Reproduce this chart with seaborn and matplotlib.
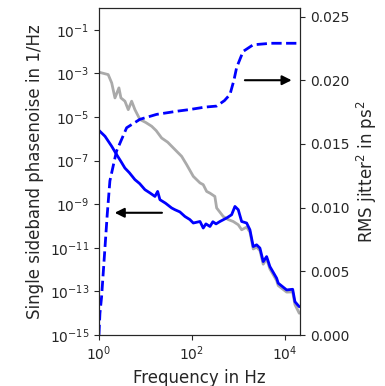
import numpy as np
import matplotlib
matplotlib.use("Agg")
import matplotlib.pyplot as plt
import seaborn as sns

# phase noise, grey trace (frequency in Hz, log10 of L(f) in 1/Hz)
grey_freq = [1.0, 1.58, 1.88, 2.21, 2.69, 2.97, 3.62, 4.27, 5.05, 5.94, 7.62, 10.2,
             13.6, 17.0, 22.3, 30.0, 43.1, 60.0, 76.9, 107, 149, 175, 207, 244, 311,
             340, 471, 600, 773, 991, 1172, 1500, 1766, 2080, 2460, 2897, 3412, 4036,
             4753, 6622, 7178, 10890, 14660, 16410, 20320]
grey_log = [-2.94, -3.05, -3.43, -4.12, -3.66, -4.12, -4.27, -4.66, -4.27, -4.66,
            -5.11, -5.25, -5.42, -5.62, -5.96, -6.15, -6.49, -6.80, -7.18, -7.72,
            -8.02, -8.10, -8.41, -8.49, -8.64, -9.17, -9.56, -9.70, -9.79, -9.94,
            -10.17, -10.05, -10.27, -11.05, -10.97, -11.12, -11.75, -11.50, -11.97,
            -12.50, -12.73, -13.03, -13.02, -13.60, -14.00]

# phase noise, blue trace
blue_freq = [1.0, 1.35, 1.88, 2.40, 3.0, 3.62, 4.5, 5.94, 7.5, 9.75, 12.5, 16.0,
             18.3, 20.5, 27.0, 36.6, 43.1, 55.0, 70.6, 90.0, 107, 149, 175, 200, 244,
             282, 330, 400, 557, 714, 841, 991, 1172, 1500, 1766, 2080, 2460, 2897,
             3412, 4036, 4753, 6622, 7178, 10890, 14660, 16410, 20320]
blue_log = [-5.61, -5.88, -6.34, -6.72, -7.05, -7.34, -7.55, -7.87, -8.05, -8.33,
            -8.48, -8.64, -8.41, -8.79, -8.95, -9.17, -9.25, -9.35, -9.56, -9.70,
            -9.86, -9.79, -10.09, -9.90, -10.02, -9.80, -9.90, -9.79, -9.63, -9.48,
            -9.10, -9.25, -9.79, -9.86, -10.17, -10.94, -10.86, -11.01, -11.63,
            -11.40, -11.86, -12.39, -12.62, -12.93, -12.90, -13.47, -13.70]

# integrated RMS jitter^2 in ps^2
jit_freq = [1.0, 1.05, 1.14, 1.35, 1.51, 1.72, 2.21, 2.4, 3.94, 7.6, 17.4, 50.6,
            90, 190, 339, 500, 657, 800, 915, 1260, 2070, 5000, 20320]
jit_val = [0.0, 0.0017, 0.003, 0.0069, 0.0095, 0.0121, 0.0139, 0.01445, 0.01627,
           0.01693, 0.01732, 0.01758, 0.0177, 0.01789, 0.01797, 0.0184, 0.01888,
           0.0200, 0.0210, 0.02226, 0.02278, 0.0229, 0.0229]

sns.set_style("ticks")
plt.rcParams["font.family"] = ["DejaVu Sans"]

fig = plt.figure(figsize=(3.85, 3.86), dpi=100)
ax = fig.add_axes([0.257, 0.132, 0.522, 0.847])

sns.lineplot(x=grey_freq, y=10.0 ** np.array(grey_log), ax=ax, color="#aaaaaa", lw=2)
sns.lineplot(x=blue_freq, y=10.0 ** np.array(blue_log), ax=ax, color="#0000ff", lw=2)
ax.set_xscale("log")
ax.set_yscale("log")
ax.set_xlim(1, 2.1e4)
ax.set_ylim(1e-15, 1)
ax.set_xticks([1, 1e2, 1e4])
ax.set_yticks([10.0 ** k for k in range(-15, 0, 2)])
ax.minorticks_off()
ax.set_xlabel("Frequency in Hz", fontsize=12)
ax.set_ylabel("Single sideband phasenoise in 1/Hz", fontsize=12)
ax.tick_params(labelsize=10)
ax.annotate("", xy=(1.9, 10 ** -9.39), xytext=(26, 10 ** -9.39),
            arrowprops=dict(arrowstyle="-|>", color="black", lw=1.5, mutation_scale=14))

ax2 = ax.twinx()
sns.lineplot(x=jit_freq, y=jit_val, ax=ax2, color="#0000ff", lw=2, linestyle="--")
ax2.set_xscale("log")
ax2.set_xlim(1, 2.1e4)
ax2.set_ylim(0, 0.02566)
ax2.set_yticks([0, 0.005, 0.01, 0.015, 0.02, 0.025])
ax2.set_yticklabels(["0.000", "0.005", "0.010", "0.015", "0.020", "0.025"])
ax2.minorticks_off()
ax2.set_ylabel("RMS jitter$^2$ in ps$^2$", fontsize=12)
ax2.tick_params(labelsize=10)
ax2.annotate("", xy=(1.6e4, 0.020), xytext=(1200, 0.020),
             arrowprops=dict(arrowstyle="-|>", color="black", lw=1.5, mutation_scale=14))
for s in ax2.spines.values():
    s.set_visible(True)

fig.savefig("out.png", dpi=100)
